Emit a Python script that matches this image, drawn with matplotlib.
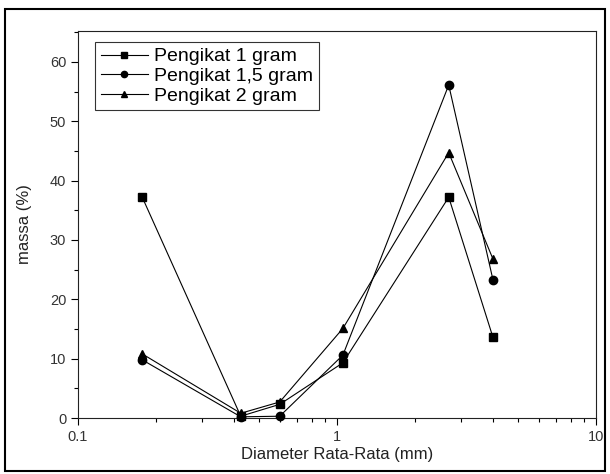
import matplotlib
matplotlib.use("Agg")
import matplotlib.pyplot as plt
from matplotlib.ticker import MultipleLocator, LogLocator, NullFormatter
from matplotlib.patches import Rectangle

plt.rcParams['font.family'] = ['Liberation Sans', 'DejaVu Sans']

diameter = [0.177, 0.425, 0.601, 1.054, 2.70, 4.0]
series_names = ["Pengikat 1 gram", "Pengikat 1,5 gram", "Pengikat 2 gram"]
mass_1 = [37.2, 0.3, 2.3, 9.3, 37.2, 13.6]
mass_15 = [9.8, 0.2, 0.3, 10.6, 56.1, 23.3]
mass_2 = [10.8, 0.8, 2.7, 15.1, 44.7, 26.8]
markers = ["s", "o", "^"]
x_ticks = [0.1, 1, 10]
x_tick_labels = ["0.1", "1", "10"]
y_ticks = [0, 10, 20, 30, 40, 50, 60]

fig = plt.figure(figsize=(6.10, 4.74), dpi=100)
ax = fig.add_axes([78/610, 1-418/474, 518/610, (418-31)/474])

for name, vals, m in zip(series_names, [mass_1, mass_15, mass_2], markers):
    ax.plot(diameter, vals, color='black', lw=0.8, marker=m, markersize=6,
            markerfacecolor='black', markeredgecolor='black', label=name, clip_on=False, zorder=3)

ax.set_xscale('log')
ax.set_xlim(0.1, 10)
ax.set_ylim(0, 65.2)
ax.set_xticks(x_ticks)
ax.set_xticklabels(x_tick_labels)
ax.xaxis.set_minor_locator(LogLocator(base=10, subs=range(2, 10)))
ax.xaxis.set_minor_formatter(NullFormatter())
ax.set_yticks(y_ticks)
ax.yaxis.set_minor_locator(MultipleLocator(5))

ax.tick_params(axis='both', which='major', direction='out', length=5, width=0.8,
               labelsize=10.5, labelcolor='#333333', top=False, right=False)
ax.tick_params(axis='both', which='minor', direction='out', length=3, width=0.8,
               top=False, right=False)
for s in ax.spines.values():
    s.set_linewidth(0.8)
    s.set_color('#222222')

ax.set_xlabel("Diameter Rata-Rata (mm)", fontsize=12, color='#222222', labelpad=2)
ax.set_ylabel("massa (%)", fontsize=12, color='#222222', labelpad=13)

leg = ax.legend(loc='upper left', bbox_to_anchor=(17/518, 1-11/387), fontsize=14,
                frameon=True, fancybox=False, edgecolor='black', handlelength=2.4,
                handletextpad=0.35, labelspacing=0.1, borderpad=0.3, borderaxespad=0,
                markerscale=0.75)
leg.get_frame().set_linewidth(0.8)

fig.patches.append(Rectangle((5/610, 3/474), 600/610, 1-12/474, transform=fig.transFigure,
                             fill=False, edgecolor='black', lw=1.5))

fig.savefig("out.png", dpi=100)
